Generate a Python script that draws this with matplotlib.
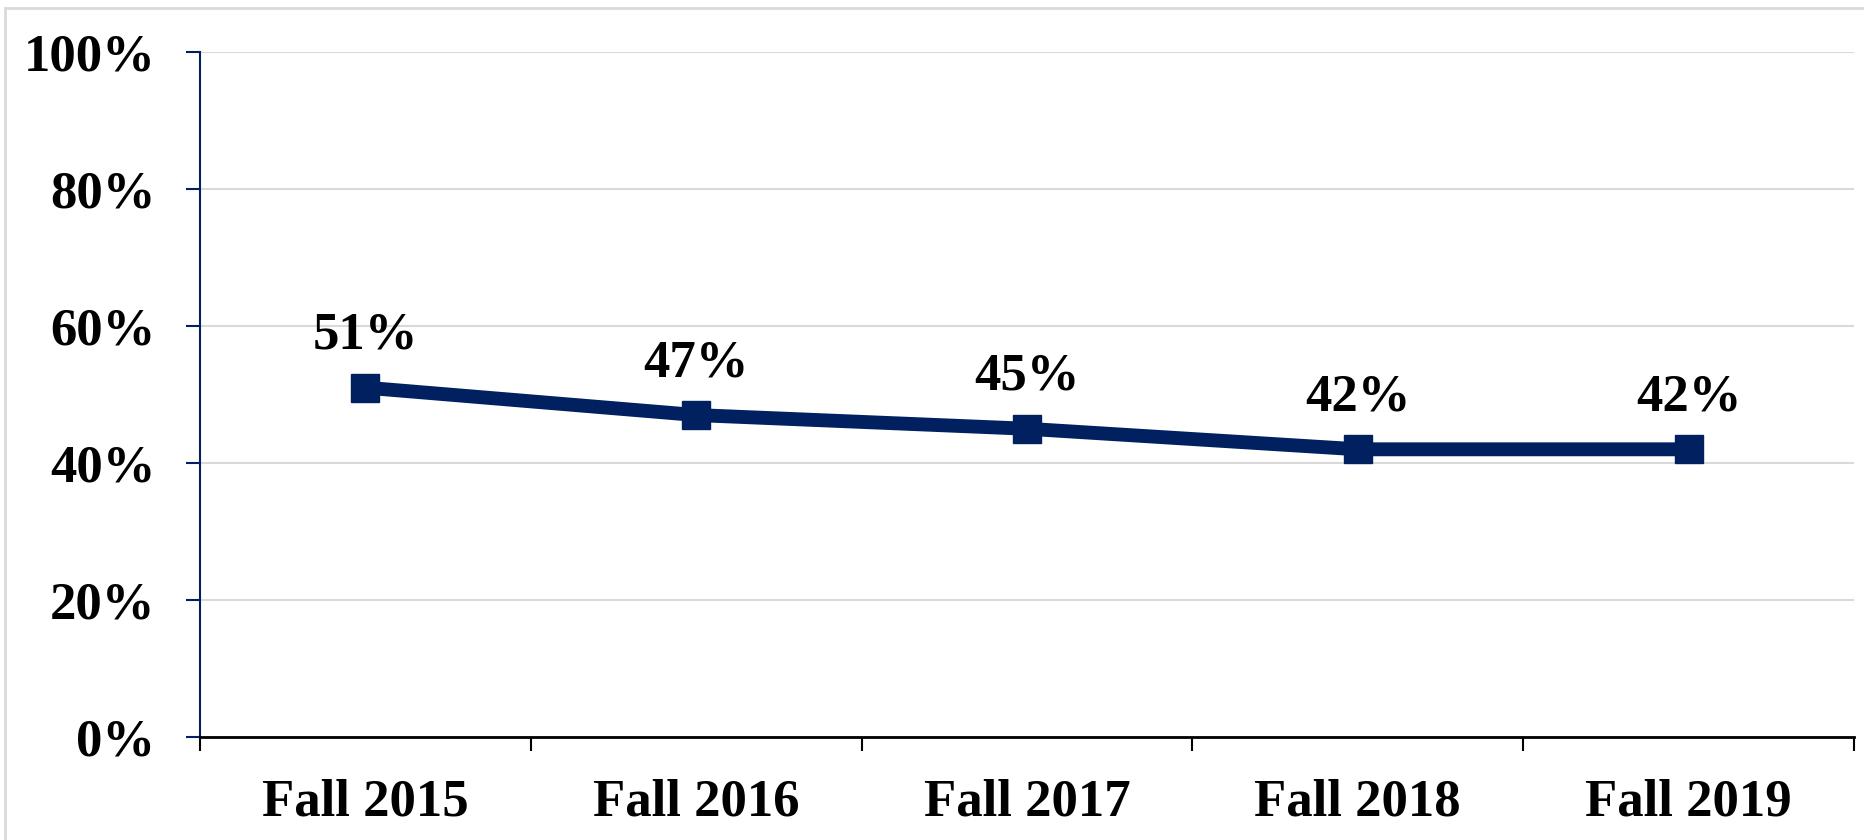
import matplotlib
matplotlib.use("Agg")
import matplotlib.pyplot as plt
from matplotlib.patches import Rectangle
from matplotlib.ticker import FuncFormatter

categories = ["Fall 2015", "Fall 2016", "Fall 2017", "Fall 2018", "Fall 2019"]
values = [51, 47, 45, 42, 42]
yticks = [0, 20, 40, 60, 80, 100]

W, H, DPI = 1865, 840, 100
fig = plt.figure(figsize=(W / DPI, H / DPI), dpi=DPI)
plt.rcParams['font.family'] = ['Liberation Serif', 'DejaVu Serif']

navy = "#002060"
L, R, T, B = 200, 1854, 52, 737
ax = fig.add_axes([L / W, 1 - B / H, (R - L) / W, (B - T) / H])

x = list(range(len(categories)))
ax.plot(x, values, color=navy, lw=10, marker="s", ms=20, mfc=navy, mec=navy, zorder=3)
for xi, v in zip(x, values):
    ax.annotate(f"{v}%", (xi, v), xytext=(0, 20), textcoords="offset points",
                ha="center", va="bottom", fontsize=38, fontweight="bold", color="black")

ax.set_xlim(-0.5, len(categories) - 0.5)
ax.set_ylim(0, 100)
ax.set_yticks(yticks)
ax.yaxis.set_major_formatter(FuncFormatter(lambda v, p: f"{int(v)}%"))
ax.set_xticks(x)
ax.set_xticklabels(categories)
ax.set_xticks([i - 0.5 for i in range(len(categories) + 1)], minor=True)
ax.tick_params(axis="x", which="major", length=0, pad=30, labelsize=38)
ax.tick_params(axis="x", which="minor", length=10, width=1.5, color="black", direction="out")
ax.tick_params(axis="y", length=10, width=1.5, color=navy, pad=22, labelsize=38)
for lab in ax.get_xticklabels() + ax.get_yticklabels():
    lab.set_fontweight("bold")

ax.grid(axis="y", color="#d9d9d9", lw=1.5)
ax.set_axisbelow(True)
for s in ["top", "right"]:
    ax.spines[s].set_visible(False)
ax.spines["left"].set_color(navy)
ax.spines["left"].set_linewidth(1.5)
ax.spines["bottom"].set_color("black")
ax.spines["bottom"].set_linewidth(2)

fig.patches.append(Rectangle((5 / W, -0.05), 1.1, 1 - 8 / H + 0.05, transform=fig.transFigure,
                             fill=False, edgecolor="#d9d9d9", lw=2))

fig.savefig("out.png", dpi=DPI)
